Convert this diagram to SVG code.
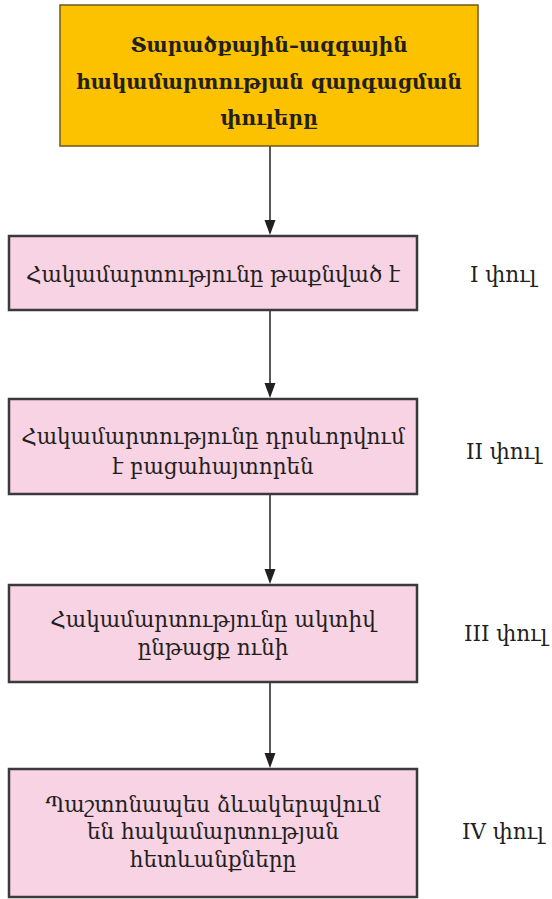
<svg xmlns="http://www.w3.org/2000/svg" width="552" height="899" viewBox="0 0 552 899">
<defs>
<style>
.head{fill:#FCC200;stroke:#6b5a1e;stroke-width:1.5}
.box{fill:#F8D3E4;stroke:#3a3a3a;stroke-width:2.5}
.ht{font-family:"DejaVu Serif","DejaVu Sans",serif;font-size:20px;font-weight:bold;fill:#231f20;text-anchor:middle}
.t{font-family:"DejaVu Serif","DejaVu Sans",serif;font-size:21.5px;fill:#231f20;text-anchor:middle}
.lab{font-family:"DejaVu Serif","DejaVu Sans",serif;font-size:21.5px;fill:#231f20}
.c{stroke:#231f20;stroke-width:1.5;fill:none}
.ah{fill:#231f20}
</style>
</defs>
<rect width="552" height="899" fill="#ffffff"/>
<g id="connectors">
<line class="c" x1="270" y1="146" x2="270" y2="226"/>
<line class="c" x1="270" y1="310" x2="270" y2="389"/>
<line class="c" x1="270" y1="494" x2="270" y2="575"/>
<line class="c" x1="270" y1="682" x2="270" y2="759"/>
<path class="ah" d="M264.5,220 L275.5,220 L270,235 Z"/>
<path class="ah" d="M264.5,383 L275.5,383 L270,398 Z"/>
<path class="ah" d="M264.5,569 L275.5,569 L270,584 Z"/>
<path class="ah" d="M264.5,753 L275.5,753 L270,768 Z"/>
</g>
<g id="n0">
<rect class="head" x="60" y="5" width="418" height="141"/>
<text class="ht" x="269" y="52">Տարածքային–ազգային</text>
<text class="ht" x="269" y="89">հակամարտության զարգացման</text>
<text class="ht" x="269" y="125">փուլերը</text>
</g>
<g id="n1">
<rect class="box" x="9" y="236" width="408" height="74"/>
<text class="t" x="213" y="282">Հակամարտությունը թաքնված է</text>
</g>
<g id="l1"><text class="lab" x="470" y="282">I փուլ</text></g>
<g id="n2">
<rect class="box" x="9" y="399" width="408" height="95"/>
<text class="t" x="213" y="444">Հակամարտությունը դրսևորվում</text>
<text class="t" x="213" y="474">է բացահայտորեն</text>
</g>
<g id="l2"><text class="lab" x="466" y="459">II փուլ</text></g>
<g id="n3">
<rect class="box" x="9" y="585" width="408" height="97"/>
<text class="t" x="213" y="627">Հակամարտությունը ակտիվ</text>
<text class="t" x="213" y="655">ընթացք ունի</text>
</g>
<g id="l3"><text class="lab" x="464" y="641">III փուլ</text></g>
<g id="n4">
<rect class="box" x="9" y="769" width="408" height="128"/>
<text class="t" x="213" y="812">Պաշտոնապես ձևակերպվում</text>
<text class="t" x="213" y="839">են հակամարտության</text>
<text class="t" x="213" y="867">հետևանքները</text>
</g>
<g id="l4"><text class="lab" x="462" y="839">IV փուլ</text></g>
</svg>
